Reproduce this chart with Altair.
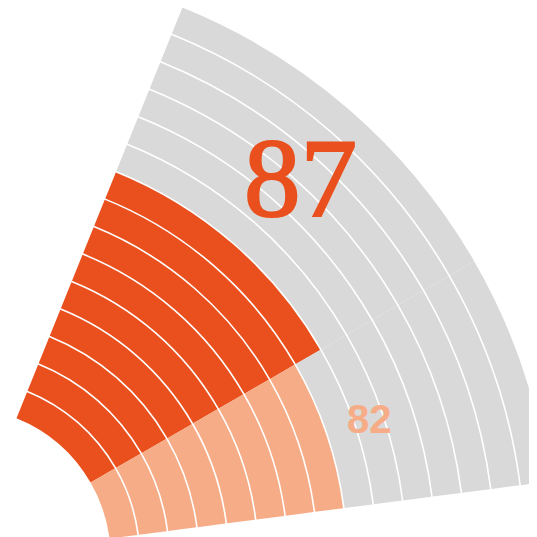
import math
import altair as alt
import pandas as pd

# ---- data ----
labels = ["87", "82"]
values = [87, 82]
filled_rings = [9, 8]      # coloured rings in each sector
total_rings = 15           # rings in the grey background
fill_colors = ["#E9501E", "#F6AD87"]
empty_color = "#D9D9D9"

# ---- layout constants (pixels / degrees) ----
W, H = 521, 529
CX, CY = -48, 550           # polar centre (outside the visible view)
R_IN, R_OUT = 150, 594.5
SECTOR_EDGES = [22.0, 60.0, 82.6]   # degrees clockwise from north
LABEL_THETA = [42.2, 71.5]
LABEL_RING = [12.05, 9.5]

rows = []
for s, lab in enumerate(labels):
    for i in range(total_rings):
        rows.append({
            "sector": lab,
            "a0": SECTOR_EDGES[s],
            "a1": SECTOR_EDGES[s + 1],
            "r0": i,
            "r1": i + 1,
            "key": lab + ("_on" if i < filled_rings[s] else "_off"),
        })
df = pd.DataFrame(rows)

keys = []
cols = []
for s, lab in enumerate(labels):
    keys += [lab + "_on", lab + "_off"]
    cols += [fill_colors[s], empty_color]

theta_scale = alt.Scale(domain=[0, 360], range=[0, 2 * math.pi])
radius_scale = alt.Scale(type="linear", domain=[0, total_rings], range=[R_IN, R_OUT], zero=False)

arcs = alt.Chart(df).mark_arc(radiusOffset=-0.8, radius2Offset=0.8).encode(
    x=alt.value(CX),
    y=alt.value(CY),
    theta=alt.Theta("a0:Q", scale=theta_scale),
    theta2="a1:Q",
    radius=alt.Radius("r1:Q", scale=radius_scale),
    radius2="r0:Q",
    color=alt.Color("key:N", scale=alt.Scale(domain=keys, range=cols), legend=None),
)

lab_df = pd.DataFrame({
    "label": labels,
    "value": values,
    "ta": LABEL_THETA,
    "tr": LABEL_RING,
})

def label_layer(idx, font, size, weight, sw):
    return alt.Chart(lab_df).transform_filter(
        alt.datum.label == labels[idx]
    ).mark_text(
        font=font, fontSize=size, fontWeight=weight,
        align="center", baseline="middle", color=fill_colors[idx],
        stroke=fill_colors[idx], strokeWidth=sw,
    ).encode(
        x=alt.value(CX),
        y=alt.value(CY),
        theta=alt.Theta("ta:Q", scale=theta_scale),
        radius=alt.Radius("tr:Q", scale=radius_scale),
        text="label:N",
    )

t87 = label_layer(0, "Liberation Serif", 113, "normal", 2.2)
t82 = label_layer(1, "Liberation Sans", 40, "bold", 0.1)

chart = alt.layer(arcs, t87, t82).properties(
    width=W, height=H,
    autosize=alt.AutoSizeParams(type="none"),
    padding=0,
    background="white",
).configure_view(stroke=None)

chart.save("out.html", embed_options={"renderer": "svg", "actions": False})
